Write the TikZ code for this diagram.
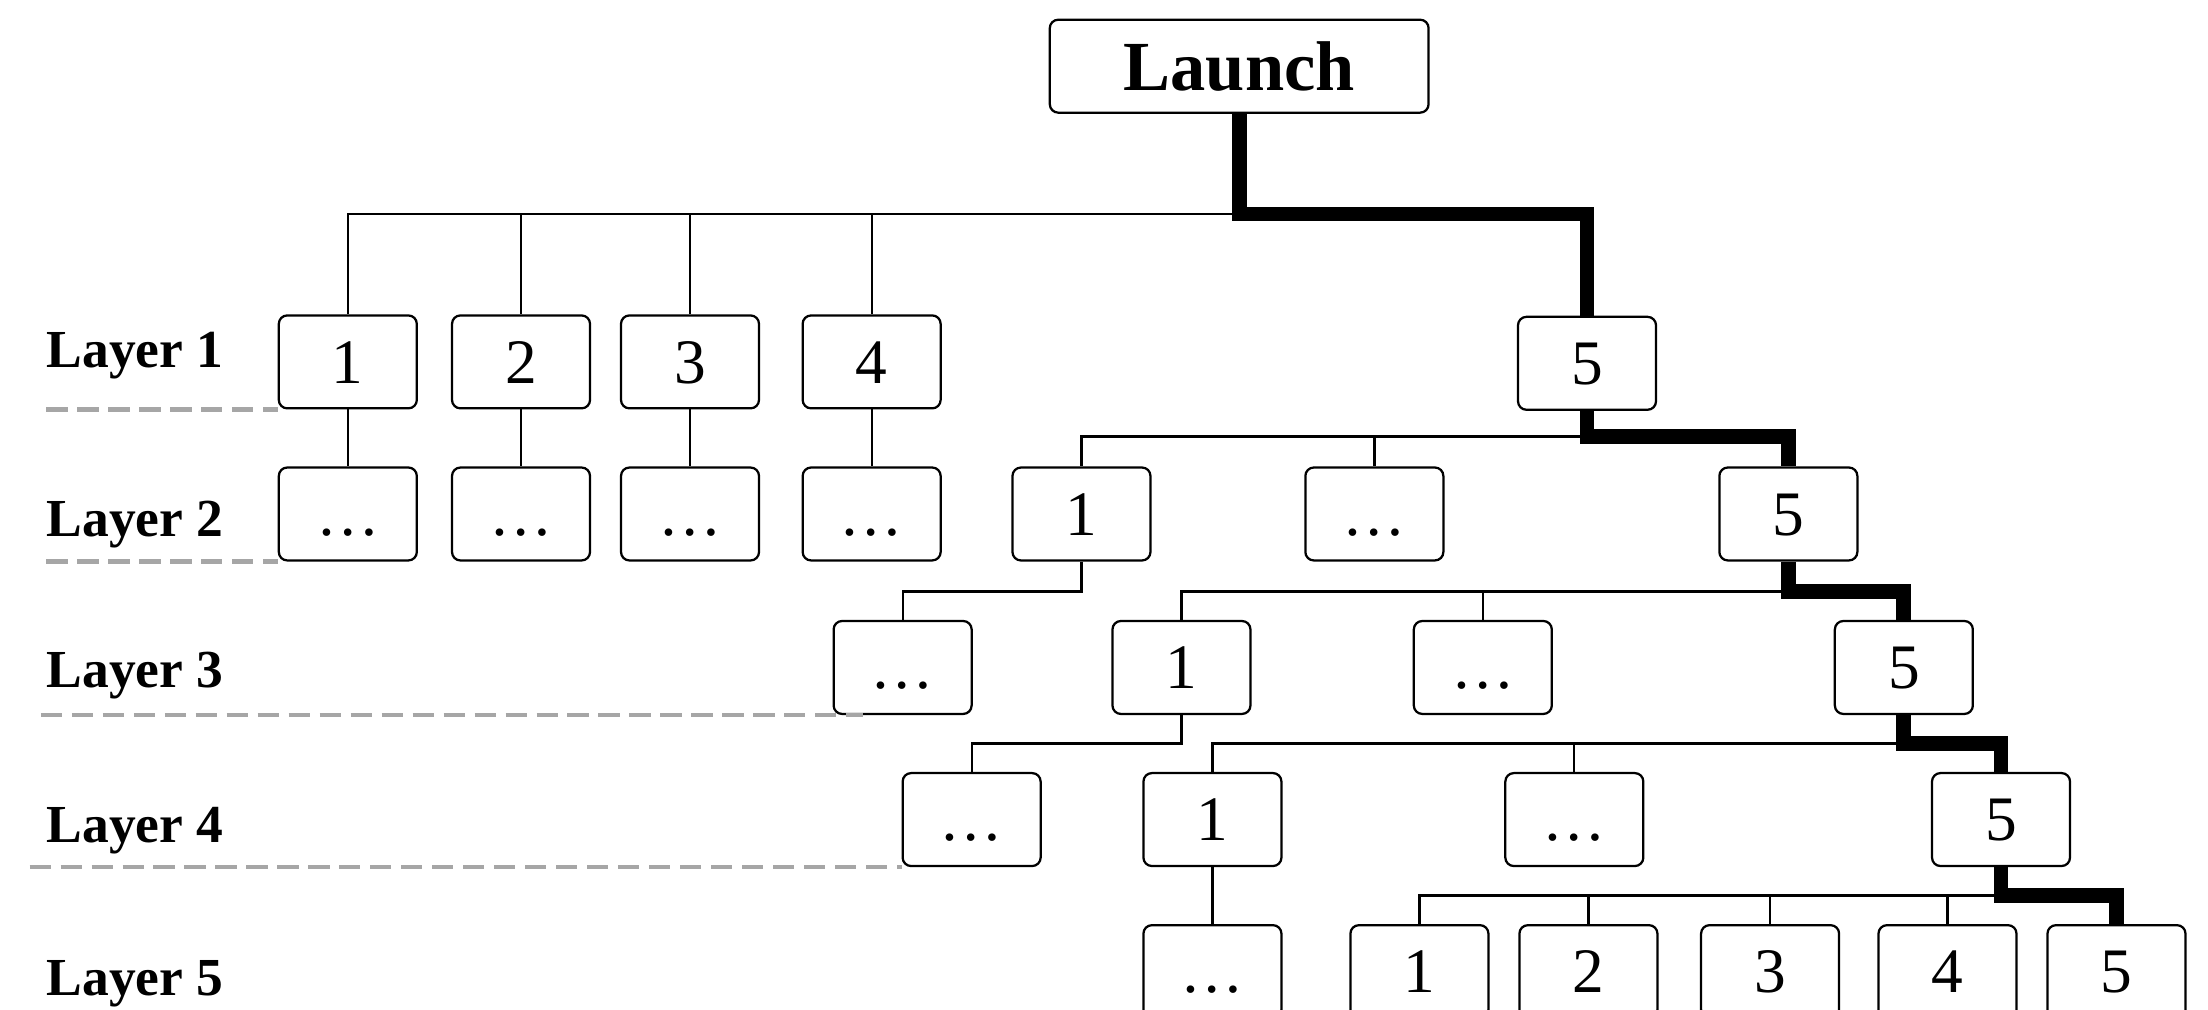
\documentclass[tikz,border=0pt]{standalone}
\usepackage{fontspec}
\setmainfont{Liberation Serif}
\begin{document}
\begin{tikzpicture}[x=1pt,y=-1pt,
  box/.style={draw, fill=white, rounded corners=6pt, line width=1.6pt, minimum width=98pt, minimum height=66pt, inner sep=0pt, font=\fontsize{45}{45}\selectfont, text height=30pt, text depth=0pt},
  edge/.style={line width=1.6pt},
  hot/.style={line width=10.5pt, line join=miter},
  lbl/.style={anchor=base west, font=\bfseries\fontsize{38}{38}\selectfont, inner sep=0pt},
  sep/.style={draw=gray!70, line width=3pt, dash pattern=on 15pt off 7pt}]
\clip (0,0) rectangle (1568,717);
\fill[white] (0,0) rectangle (1568,717);

% bus levels
\coordinate (y1) at (0,152);
\coordinate (y2) at (0,310);
\coordinate (y3) at (0,420);
\coordinate (y4) at (0,528);
\coordinate (y5) at (0,636);

% root
\node[box, font=\bfseries\fontsize{50}{50}\selectfont, minimum width=269pt, text height=34pt] (L) at (880,47) {Launch};

% layer 1
\node[box] (a1) at (247,257) {1};
\node[box] (a2) at (370,257) {2};
\node[box] (a3) at (490,257) {3};
\node[box] (a4) at (619,257) {4};
\node[box] (a5) at (1127,258) {5};

% layer 2
\node[box] (b1) at (247,365) {…};
\node[box] (b2) at (370,365) {…};
\node[box] (b3) at (490,365) {…};
\node[box] (b4) at (619,365) {…};
\node[box] (b5) at (768,365) {1};
\node[box] (b6) at (976,365) {…};
\node[box] (b7) at (1270,365) {5};

% layer 3
\node[box] (c1) at (641,474) {…};
\node[box] (c2) at (839,474) {1};
\node[box] (c3) at (1053,474) {…};
\node[box] (c4) at (1352,474) {5};

% layer 4
\node[box] (d1) at (690,582) {…};
\node[box] (d2) at (861,582) {1};
\node[box] (d3) at (1118,582) {…};
\node[box] (d4) at (1421,582) {5};

% layer 5
\node[box] (e0) at (861,690) {…};
\node[box] (e1) at (1008,690) {1};
\node[box] (e2) at (1128,690) {2};
\node[box] (e3) at (1257,690) {3};
\node[box] (e4) at (1383,690) {4};
\node[box] (e5) at (1503,690) {5};

% layer labels
\node[lbl] (l1) at (33,261) {Layer 1};
\node[lbl] (l2) at (33,381) {Layer 2};
\node[lbl] (l3) at (33,488) {Layer 3};
\node[lbl] (l4) at (33,598) {Layer 4};
\node[lbl] (l5) at (33,707) {Layer 5};

% separators
\coordinate (s1) at (33,0);
\coordinate (s2) at (33,0);
\coordinate (s3) at (29,0);
\coordinate (s4) at (21,0);
\draw[sep] (a1.south west -| s1) -- (a1.south west);
\draw[sep] (b1.south west -| s2) -- (b1.south west);
\draw[sep] (c1.south west -| s3) -- ([xshift=22pt]c1.south west);
\draw[sep] (d1.south west -| s4) -- (d1.south west);

% layer 0 -> 1
\foreach \c in {a1,a2,a3,a4}
  \draw[edge] (L.south |- y1) -| (\c.north);
\draw[hot] (L.south) |- (a5.north |- y1) -- (a5.north);

% layer 1 -> 2
\draw[edge] (a1.south) -- (b1.north);
\draw[edge] (a2.south) -- (b2.north);
\draw[edge] (a3.south) -- (b3.north);
\draw[edge] (a4.south) -- (b4.north);
\foreach \c in {b5,b6}
  \draw[edge] (a5.south |- y2) -| (\c.north);
\draw[hot] (a5.south) |- (b7.north |- y2) -- (b7.north);

% layer 2 -> 3
\draw[edge] (b5.south) |- (c1.north |- y3) -- (c1.north);
\foreach \c in {c2,c3}
  \draw[edge] (b7.south |- y3) -| (\c.north);
\draw[hot] (b7.south) |- (c4.north |- y3) -- (c4.north);

% layer 3 -> 4
\draw[edge] (c2.south) |- (d1.north |- y4) -- (d1.north);
\foreach \c in {d2,d3}
  \draw[edge] (c4.south |- y4) -| (\c.north);
\draw[hot] (c4.south) |- (d4.north |- y4) -- (d4.north);

% layer 4 -> 5
\draw[edge] (d2.south) -- (e0.north);
\foreach \c in {e1,e2,e3,e4}
  \draw[edge] (d4.south |- y5) -| (\c.north);
\draw[hot] (d4.south) |- (e5.north |- y5) -- (e5.north);
\end{tikzpicture}
\end{document}
